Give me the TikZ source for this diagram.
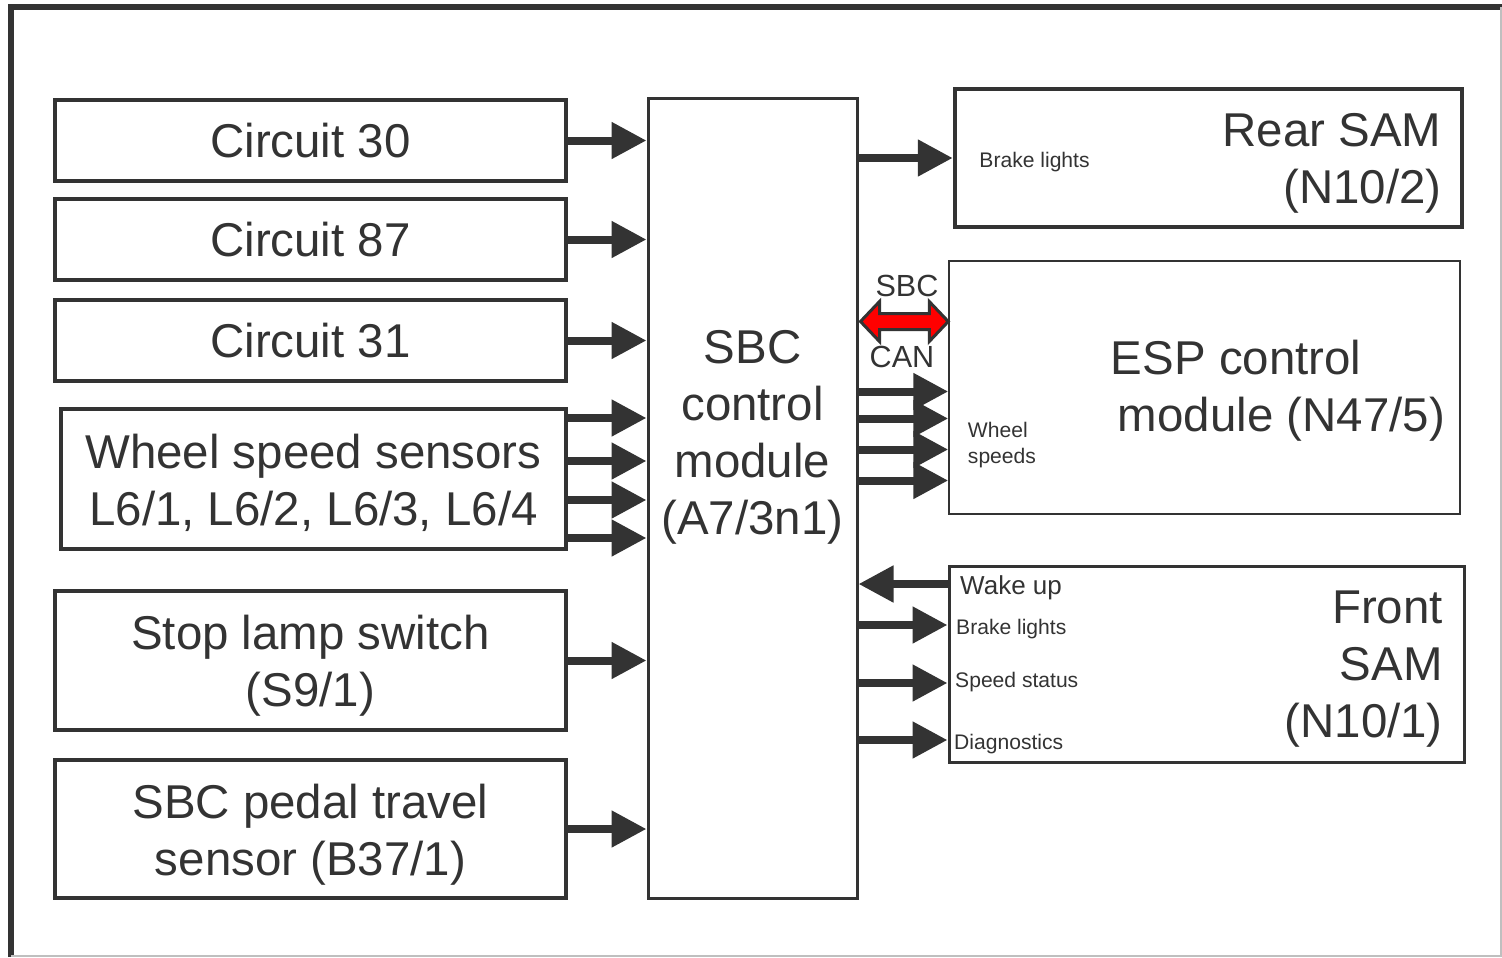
\documentclass[tikz,border=0pt]{standalone}
\usepackage{fontspec}
\setmainfont{Liberation Sans}
\usepackage{xcolor}
\usetikzlibrary{positioning,arrows.meta,calc}
\definecolor{ink}{HTML}{333333}
\definecolor{canred}{HTML}{FF0000}

\begin{document}
\begin{tikzpicture}[x=0.1mm, y=-0.1mm,
        box/.style={rectangle, draw=ink, line width=0.4mm, inner sep=0pt, text=ink, font=\fontsize{13.5}{16.2}\selectfont, align=center},
        bigtext/.style={text=ink, font=\fontsize{13.5}{16.2}\selectfont, inner sep=0pt},
        smalltext/.style={text=ink, font=\fontsize{6}{7.4}\selectfont, inner sep=0pt},
        bustext/.style={text=ink, font=\fontsize{8.7}{10}\selectfont, inner sep=0pt},
        feed/.style={draw=ink, line width=0.8mm, -{Triangle[length=3.5mm, width=3.5mm]}}
    ]
    \useasboundingbox (0,0) rectangle (1502,957);
    % Frame
    \draw[ink, line width=0.6mm] (11,957) -- (11,7) -- (1502,7);
    \draw[gray!50, line width=0.15mm] (11,956) -- (1501,956) -- (1501,7);

    % Inputs
    \node[box, minimum width=51.1mm, minimum height=8.1mm] (c30) at (310.5,140.5) {Circuit 30};
    \node[box, minimum width=51.1mm, minimum height=8.1mm] (c87) at (310.5,239.5) {Circuit 87};
    \node[box, minimum width=51.1mm, minimum height=8.1mm] (c31) at (310.5,340.5) {Circuit 31};
    \node[box, minimum width=50.5mm, minimum height=14mm] (wss) at (313.5,479) {};
    \node[bigtext, align=center] (wsstxt) at (313.5,482.5) {Wheel speed sensors\\L6/1, L6/2, L6/3, L6/4};
    \node[box, minimum width=51.1mm, minimum height=13.9mm] (slsw) at (310.5,660.5) {};
    \node[bigtext, align=center] (slswtxt) at (310.5,666) {Stop lamp switch\\(S9/1)};
    \node[box, minimum width=51.1mm, minimum height=13.8mm] (ptsens) at (310.5,829) {};
    \node[bigtext, align=center] (ptsenstxt) at (310.5,834.5) {SBC pedal travel\\sensor (B37/1)};

    % Control module
    \node[box, line width=0.3mm, minimum width=20.9mm, minimum height=80mm] (sbc) at (752.5,498) {};
    \node[bigtext, align=center] (sbctxt) at (752.5,437) {SBC\\control\\module\\(A7/3n1)};

    % Outputs
    \node[box, line width=0.45mm, minimum width=50.7mm, minimum height=13.8mm] (rear) at (1208.5,158) {};
    \node[bigtext, align=right, anchor=east] (reartxt) at ($(rear.east)+(-22,5.5)$) {Rear SAM\\(N10/2)};
    \node[smalltext, anchor=west] (rearbl) at ($(rear.west)+(26,4)$) {Brake lights};

    \node[box, line width=0.15mm, minimum width=51.1mm, minimum height=25.3mm] (esp) at (1204.5,387.5) {};
    \node[bigtext, align=left, anchor=west] (esptxt) at ($(esp.west)+(162,3.5)$) {ESP control\\\hspace*{0.7mm}module (N47/5)};
    \node[smalltext, align=left, anchor=west] (espws) at ($(esp.west)+(19,58)$) {Wheel\\speeds};

    \node[box, line width=0.3mm, minimum width=51.5mm, minimum height=19.6mm] (front) at (1206.5,664) {};
    \node[bigtext, align=right, anchor=east] (fronttxt) at ($(front.east)+(-22,5)$) {Front\\SAM\\(N10/1)};
    \node[text=ink, font=\fontsize{7.4}{9}\selectfont, inner sep=0pt, anchor=west] (fwake) at ($(front.west)+(12,-76)$) {Wake up};
    \node[smalltext, anchor=west] (fbl) at ($(front.west)+(8,-35)$) {Brake lights};
    \node[smalltext, anchor=west] (fss) at ($(front.west)+(7,18)$) {Speed status};
    \node[smalltext, anchor=west] (fdiag) at ($(front.west)+(6,80)$) {Diagnostics};

    % Arrows in
    \foreach \src in {c30,c87,c31,slsw,ptsens} {
        \draw[feed] (\src) -- (sbc.west |- \src);
    }
    \foreach \dy in {-61,-18,21,59} {
        \draw[feed] ($(wss.east)+(0,\dy)$) -- ($(sbc.west |- wss.east)+(0,\dy)$);
    }

    % Arrows out
    \draw[feed] (sbc.east |- rear) -- (rear);
    \foreach \dy in {4,31,62,93} {
        \draw[feed] ($(sbc.east |- esp.west)+(0,\dy)$) -- ($(esp.west)+(0,\dy)$);
    }
    \draw[feed] ($(front.west)+(0,-80)$) -- ($(sbc.east |- front.west)+(0,-80)$);
    \foreach \dy in {-39,19,76} {
        \draw[feed] ($(sbc.east |- front.west)+(0,\dy)$) -- ($(front.west)+(0,\dy)$);
    }

    % SBC CAN
    \coordinate (canl) at ($(sbc.east |- esp.west)+(2,-66)$);
    \coordinate (canr) at ($(esp.west)+(0,-66)$);
    \filldraw[fill=canred, draw=ink, line width=0.3mm, line join=miter]
        (canl) -- ($(canl)+(19,-20)$) -- ($(canl)+(19,-8)$) -- ($(canr)+(-19,-8)$)
        -- ($(canr)+(-19,-20)$) -- (canr) -- ($(canr)+(-19,20)$) -- ($(canr)+(-19,8)$)
        -- ($(canl)+(19,8)$) -- ($(canl)+(19,20)$) -- cycle;
    \node[bustext] (cantop) at (907,286) {SBC};
    \node[bustext] (canbot) at (902,357) {CAN};
\end{tikzpicture}
\end{document}
